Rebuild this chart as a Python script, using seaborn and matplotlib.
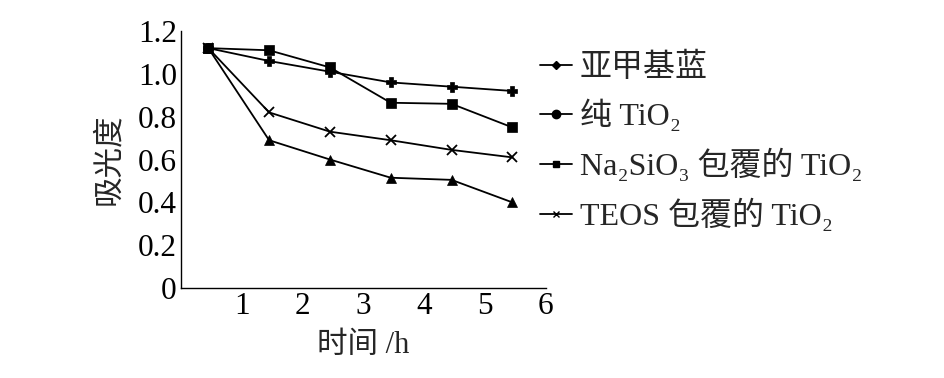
import matplotlib
matplotlib.use("Agg")
import matplotlib.pyplot as plt
from matplotlib.lines import Line2D
import seaborn as sns
import pandas as pd

# ---- data ----
time_h = [0.45, 1.45, 2.45, 3.45, 4.45, 5.45]
methylene_blue = [1.12, 1.06, 1.01, 0.96, 0.94, 0.92]
pure_tio2 = [1.12, 1.11, 1.03, 0.865, 0.86, 0.75]
na2sio3_tio2 = [1.12, 0.69, 0.60, 0.515, 0.505, 0.40]
teos_tio2 = [1.12, 0.82, 0.73, 0.69, 0.645, 0.61]
series_names = ["亚甲基蓝", "纯 TiO₂", "Na₂SiO₃ 包覆的 TiO₂", "TEOS 包覆的 TiO₂"]
x_ticks = [1, 2, 3, 4, 5, 6]
y_ticks = [0, 0.2, 0.4, 0.6, 0.8, 1.0, 1.2]
y_tick_labels = ["0", "0.2", "0.4", "0.6", "0.8", "1.0", "1.2"]

sns.set_style("white")
plt.rcParams["font.family"] = ["Liberation Serif", "DejaVu Serif", "Noto Sans CJK SC"]

fig = plt.figure(figsize=(9.45, 3.78), dpi=100)
ax = fig.add_axes([0.1915, 0.238, 0.386, 0.68])

plot_markers = ["P", "s", "^", "x"]
plot_sizes = [7, 7, 7, 7]
all_vals = [methylene_blue, pure_tio2, na2sio3_tio2, teos_tio2]
for name, vals, mk, ms in zip(series_names, all_vals, plot_markers, plot_sizes):
    df = pd.DataFrame({"t": time_h, "a": vals})
    sns.lineplot(data=df, x="t", y="a", ax=ax, color="black", linewidth=1.3,
                 marker=mk, markersize=ms, markeredgewidth=1.3 if mk == "x" else 0.5,
                 markeredgecolor="black", markerfacecolor="black", legend=False)

ax.set_xlim(0, 6)
ax.set_ylim(0, 1.2)
ax.set_xticks(x_ticks)
ax.set_yticks(y_ticks)
ax.set_yticklabels(y_tick_labels)
ax.tick_params(direction="in", length=7, width=1.0, labelsize=22.5, colors="black", pad=3)
for s in ["top", "right"]:
    ax.spines[s].set_visible(False)
for s in ["left", "bottom"]:
    ax.spines[s].set_color("black")
    ax.spines[s].set_linewidth(1.0)

ax.set_xlabel("时间 /h", fontsize=22, labelpad=7)
ax.set_ylabel("吸光度", fontsize=22, labelpad=10)

legend_markers = ["D", "o", "s", "x"]
legend_sizes = [4, 6, 4, 4]
handles = [Line2D([0], [0], color="black", lw=1.3, marker=m, markersize=s,
                  markerfacecolor="black", markeredgecolor="black")
           for m, s in zip(legend_markers, legend_sizes)]
fig.legend(handles, series_names, loc="upper left", bbox_to_anchor=(0.571, 0.86),
           frameon=False, fontsize=23, handlelength=1.0, handletextpad=0.25,
           labelspacing=0.52, borderaxespad=0, borderpad=0)

fig.savefig("out.png", dpi=100, facecolor="white")
